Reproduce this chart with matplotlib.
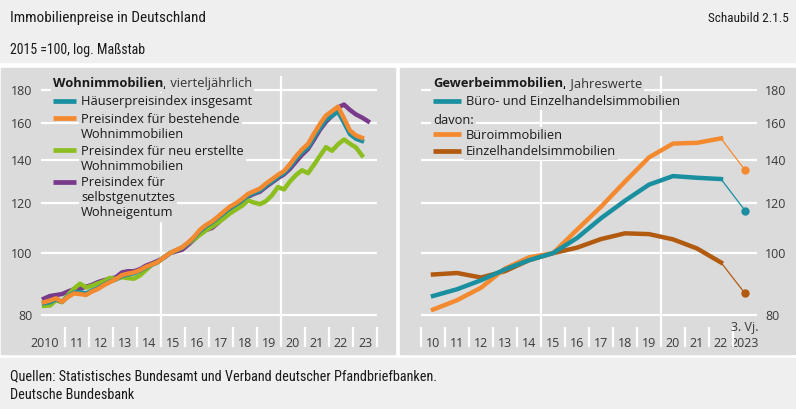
"""Immobilienpreise in Deutschland - two panel chart (log scale)."""

import matplotlib.pyplot as plt
import matplotlib.transforms as mtransforms
from matplotlib.patches import Rectangle
from matplotlib.ticker import FixedLocator, NullLocator

# Data: Wohnimmobilien, quarterly from 2010 Q1 (2015 = 100)
haeuser_gesamt = [
    83.5, 83.8, 84.7, 83.9, 85.6, 86.8, 86.9, 86.5, 87.4, 88.2, 89.3, 90.3,
    91.0, 92.1, 92.6, 93.0, 93.9, 95.0, 95.9, 96.9, 98.5, 100.0, 101.0, 102.0,
    103.7, 105.7, 108.3, 110.2, 111.7, 113.6, 115.6, 117.7, 119.1, 120.9,
    123.0, 124.2, 125.3, 127.6, 129.5, 131.6, 133.4, 136.6, 140.4, 143.8,
    146.4, 151.8, 157.0, 161.7, 164.0, 166.5, 160.0, 153.5, 151.0, 149.8,
]
bestehende = [
    83.8, 84.3, 85.0, 83.9, 85.4, 86.5, 86.3, 86.0, 87.1, 87.9, 89.1, 90.1,
    91.1, 92.4, 92.9, 93.3, 94.1, 95.2, 96.0, 96.9, 98.5, 100.0, 101.1, 102.1,
    103.9, 106.0, 108.8, 110.7, 112.1, 114.1, 116.2, 118.3, 119.7, 121.6,
    123.8, 125.0, 126.2, 128.5, 130.5, 132.6, 134.4, 137.8, 141.8, 145.3,
    148.2, 153.8, 159.3, 164.2, 166.8, 169.5, 162.5, 155.5, 152.8, 151.5,
]
neu_erstellte = [
    82.7, 82.8, 84.4, 83.8, 86.0, 88.0, 89.6, 88.4, 88.9, 89.7, 90.4, 91.5,
    91.1, 91.7, 91.4, 91.2, 92.3, 94.1, 96.0, 96.8, 98.6, 100.0, 101.0, 102.0,
    103.6, 105.1, 106.8, 108.6, 110.0, 111.6, 113.4, 115.4, 117.0, 118.6,
    120.9, 120.0, 119.3, 120.6, 123.2, 126.9, 125.8, 129.5, 132.5, 134.8,
    133.4, 137.5, 142.0, 146.5, 144.6, 148.0, 150.6, 148.3, 146.3, 142.2,
]
selbstgenutzt = [
    84.9, 85.7, 86.0, 86.3, 87.1, 87.8, 88.0, 88.6, 89.2, 90.1, 90.7, 91.2,
    91.7, 93.3, 93.7, 93.7, 94.4, 95.6, 96.4, 97.3, 98.4, 100.0, 100.6, 101.2,
    103.0, 105.0, 107.2, 108.7, 109.5, 111.5, 114.0, 116.6, 118.5, 120.3,
    122.5, 123.8, 124.8, 127.0, 129.0, 131.0, 132.8, 135.5, 139.0, 142.5,
    145.5, 150.5, 156.0, 160.5, 164.0, 169.0, 170.8, 167.5, 164.8, 163.0,
    160.8,
]

# Data: Gewerbeimmobilien, annual 2010-2022 plus 3rd quarter 2023
gewerbe_years = list(range(2010, 2023))
buero_einzel = [85.7, 87.8, 90.7, 94.3, 97.5, 100.0, 105.6, 113.4, 120.8,
                128.0, 132.0, 131.2, 130.6]
buero = [81.6, 84.4, 88.3, 94.6, 98.5, 100.0, 108.8, 118.2, 129.4, 141.2,
         148.4, 148.8, 151.2]
einzelhandel = [92.6, 93.1, 91.6, 93.7, 97.5, 100.0, 102.0, 105.2, 107.4,
                107.1, 105.1, 101.7, 96.7]
q3_2023 = {"buero_einzel": 116.6, "buero": 134.9, "einzelhandel": 86.5}

y_ticks = [80, 100, 120, 140, 160, 180]
left_xlabels = ["2010"] + [f"{y % 100:02d}" for y in range(2011, 2024)]
right_xlabels = [f"{y % 100:02d}" for y in range(2010, 2023)] + ["2023"]

# Colours
TEAL = "#1a8fa0"
ORANGE = "#f48a30"
GREEN = "#8dbe1f"
PURPLE = "#7a3a8c"
BROWN = "#b25a10"
PANEL = "#dadbda"
HEADER = "#efefef"
TEXT = "#1a1a1a"
TICK = "#3a3a3a"

plt.rcParams["font.family"] = ["Open Sans", "DejaVu Sans"]
COND = dict(family=["Roboto Condensed", "DejaVu Sans"], stretch="condensed")

W, H = 796, 409
fig = plt.figure(figsize=(W / 100, H / 100), dpi=100)
fig.patch.set_facecolor("white")


def fig_rect(x, y, w, h):
    """Pixel box (from top left) to figure fraction."""
    return (x / W, 1 - (y + h) / H, w / W, h / H)


for (x, y, w, h), col in [((0, 0, 796, 62), HEADER),
                          ((1, 68, 394, 286), PANEL),
                          ((400, 68, 395, 286), PANEL),
                          ((0, 358, 796, 51), HEADER)]:
    fig.add_artist(Rectangle(fig_rect(x, y, w, h)[:2], w / W, h / H,
                             transform=fig.transFigure, color=col, zorder=0))

fig.text(10 / W, 1 - 18 / H, "Immobilienpreise in Deutschland",
         va="center", fontsize=11, color=TEXT, **COND)
fig.text(789 / W, 1 - 18 / H, "Schaubild 2.1.5", va="center", ha="right",
         fontsize=9.5, color=TEXT, **COND)
fig.text(10 / W, 1 - 50 / H, "2015 =100, log. Maßstab", va="center",
         fontsize=10, color=TEXT, **COND)
fig.text(10 / W, 1 - 376 / H,
         "Quellen: Statistisches Bundesamt und Verband deutscher "
         "Pfandbriefbanken.", va="center", fontsize=10.3, color=TEXT, **COND)
fig.text(10 / W, 1 - 395 / H, "Deutsche Bundesbank", va="center",
         fontsize=10.3, color=TEXT, **COND)

ax1 = fig.add_axes(fig_rect(41, 76, 336, 244))
ax2 = fig.add_axes(fig_rect(421, 76, 336, 244))


def style_axes(ax, right, labels, separators):
    ax.set_facecolor("none")
    for s in ax.spines.values():
        s.set_visible(False)
    ax.set_yscale("log")
    ax.set_ylim(78.6, 189.3)
    ax.set_xlim(2010, 2024)
    ax.yaxis.set_major_locator(FixedLocator(y_ticks))
    ax.yaxis.set_minor_locator(NullLocator())
    ax.set_yticklabels([str(t) for t in y_ticks])
    ax.xaxis.set_minor_locator(NullLocator())
    ax.set_xticks([2010.5 + i for i in range(14)])
    ax.set_xticklabels(labels)
    ax.tick_params(length=0, labelsize=9, labelcolor=TICK)
    ax.tick_params(axis="x", pad=12)
    ax.tick_params(axis="y", pad=6)
    if right:
        ax.yaxis.tick_right()
    ax.yaxis.grid(True, color="white", lw=1.6)
    ax.set_axisbelow(True)
    tr = ax.get_xaxis_transform()
    ax.vlines(separators, -0.111, -0.029, transform=tr, colors="white",
              lw=1.6, clip_on=False)
    ax.vlines([2015, 2020], -0.111, 1, transform=tr, colors="white",
              lw=1.6, clip_on=False, zorder=1)


style_axes(ax1, False, left_xlabels,
           [y for y in range(2011, 2025) if y not in (2015, 2020)])
style_axes(ax2, True, right_xlabels,
           [y for y in range(2010, 2024) if y not in (2015, 2020)])

# first left label sits a bit left of its year
lbl = ax1.get_xticklabels()[0]
lbl.set_transform(lbl.get_transform()
                  + mtransforms.ScaledTranslation(-0.08, 0, fig.dpi_scale_trans))

ax2.text(2023.5, -0.03, "3. Vj.", transform=ax2.get_xaxis_transform(),
         ha="center", va="center", fontsize=9, color=TICK)

# Left panel lines
xq = [2010 + (i + 0.5) / 4 for i in range(len(selbstgenutzt))]
lw = 3.2
ax1.plot(xq, selbstgenutzt, color=PURPLE, lw=lw, zorder=2)
ax1.plot(xq[:len(neu_erstellte)], neu_erstellte, color=GREEN, lw=lw, zorder=2.1)
ax1.plot(xq[:len(haeuser_gesamt)], haeuser_gesamt, color=TEAL, lw=lw, zorder=2.2)
ax1.plot(xq[:len(bestehende)], bestehende, color=ORANGE, lw=lw, zorder=2.3)

# Right panel lines
xa = [y + 0.5 for y in gewerbe_years]
x23 = 2023.5
for vals, key, col in [(einzelhandel, "einzelhandel", BROWN),
                       (buero, "buero", ORANGE),
                       (buero_einzel, "buero_einzel", TEAL)]:
    ax2.plot(xa, vals, color=col, lw=lw, zorder=2)
    ax2.plot([xa[-1], x23], [vals[-1], q3_2023[key]], color=col, lw=0.9)
    ax2.plot([x23], [q3_2023[key]], "o", color=col, ms=6, mec="none")

BOX = dict(facecolor=PANEL, edgecolor="none", pad=1.5)


def header(ax, fx, fy, bold, rest):
    t = ax.text(fx, fy, bold, transform=ax.transAxes, va="center",
                fontsize=9.3, fontweight="bold", color=TEXT, bbox=BOX, zorder=3)
    ax.annotate(rest, xy=(1, 0), xycoords=t, va="bottom", fontsize=9.3,
                color="#333333", bbox=BOX, zorder=3)


def entry(ax, fy, col, label, x0, length, xt):
    ax.plot([x0, x0 + length], [fy, fy], transform=ax.transAxes, color=col,
            lw=3.4, solid_capstyle="butt", clip_on=False, zorder=4)
    ax.annotate(label, xy=(xt, fy), xycoords="axes fraction",
                xytext=(0, 3.9), textcoords="offset points", va="top",
                fontsize=9.3, color=TEXT, linespacing=1.2, bbox=BOX, zorder=3)


header(ax1, 0.0357, 0.971, "Wohnimmobilien,", " vierteljährlich")
entry(ax1, 0.898, TEAL, "Häuserpreisindex insgesamt", 0.0357, 0.068, 0.119)
entry(ax1, 0.828, ORANGE, "Preisindex für bestehende\nWohnimmobilien",
      0.0357, 0.068, 0.119)
entry(ax1, 0.697, GREEN, "Preisindex für neu erstellte\nWohnimmobilien",
      0.0357, 0.068, 0.119)
entry(ax1, 0.566, PURPLE, "Preisindex für\nselbstgenutztes\nWohneigentum",
      0.0357, 0.068, 0.119)

header(ax2, 0.0357, 0.971, "Gewerbeimmobilien,", " Jahreswerte")
entry(ax2, 0.899, TEAL, "Büro- und Einzelhandelsimmobilien", 0.0357, 0.084, 0.134)
ax2.annotate("davon:", xy=(0.0357, 0.824), xycoords="axes fraction",
             xytext=(0, 3.9), textcoords="offset points", va="top",
             fontsize=9.3, color=TEXT, bbox=BOX, zorder=3)
entry(ax2, 0.762, ORANGE, "Büroimmobilien", 0.0357, 0.084, 0.134)
entry(ax2, 0.694, BROWN, "Einzelhandelsimmobilien", 0.0357, 0.084, 0.134)

fig.savefig("out.png", dpi=100)
